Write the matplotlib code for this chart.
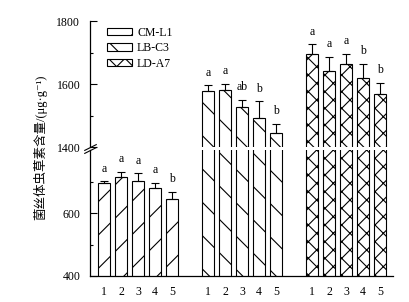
import numpy as np
import matplotlib
matplotlib.use('Agg')
import matplotlib.pyplot as plt

# Fonte serifada para o texto latino, CJK para o rótulo chinês
plt.rcParams['font.family'] = ['Liberation Serif', 'Noto Sans CJK SC', 'DejaVu Sans']
plt.rcParams['hatch.linewidth'] = 0.8

# ---- Dados ----
strains = ['CM-L1', 'LB-C3', 'LD-A7']
samples = ['1', '2', '3', '4', '5']

cm_l1 = [694, 713, 702, 680, 646]
cm_l1_err = [7, 17, 24, 15, 22]
cm_l1_sig = ['a', 'a', 'a', 'a', 'b']

lb_c3 = [1577, 1582, 1528, 1491, 1443]
lb_c3_err = [19, 19, 21, 54, 30]
lb_c3_sig = ['a', 'a', 'ab', 'b', 'b']

ld_a7 = [1697, 1643, 1665, 1620, 1569]
ld_a7_err = [29, 43, 32, 45, 35]
ld_a7_sig = ['a', 'a', 'a', 'b', 'b']

groups = [(cm_l1, cm_l1_err, cm_l1_sig),
          (lb_c3, lb_c3_err, lb_c3_sig),
          (ld_a7, ld_a7_err, ld_a7_sig)]
hatches = ['/', '\\', 'xx']

fig = plt.figure(figsize=(4.1, 3.02), dpi=100)
ax_top = fig.add_axes([0.2195, 0.5132, 0.739, 0.4168])
ax_bot = fig.add_axes([0.2195, 0.0861, 0.739, 0.4169])

fs = 8.5
handles = []
all_x = []
for g, ((vals, errs, sig), hatch) in enumerate(zip(groups, hatches)):
    x = g * 6.12 + np.arange(len(vals))
    all_x.extend(x)
    for ax in (ax_top, ax_bot):
        bars = ax.bar(x, vals, 0.75, color='white', edgecolor='black',
                      linewidth=0.8, hatch=hatch, zorder=2)
        ax.errorbar(x, vals, yerr=[np.zeros(len(vals)), errs], fmt='none',
                    ecolor='black', elinewidth=0.8, capsize=3, capthick=0.8,
                    zorder=3)
    handles.append(bars)
    # letras de significância
    for xi, v, e, s in zip(x, vals, errs, sig):
        target = ax_top if v > 1000 else ax_bot
        target.annotate(s, (xi, v + e), xytext=(0, 7), textcoords='offset points',
                        ha='center', va='baseline', fontsize=fs, annotation_clip=False)

# ---- Eixos ----
ax_top.set_ylim(1400, 1800)
ax_bot.set_ylim(400, 800)
ax_top.set_yticks([1400, 1600, 1800])
ax_top.set_yticks([1500, 1700], minor=True)
ax_bot.set_yticks([400, 600])
ax_bot.set_yticks([500, 700], minor=True)

for ax in (ax_top, ax_bot):
    ax.set_xlim(-0.82, 17.0)
    ax.spines['top'].set_visible(False)
    ax.spines['right'].set_visible(False)
    ax.spines['left'].set_linewidth(0.9)
    ax.spines['bottom'].set_linewidth(0.9)
    ax.tick_params(axis='y', direction='in', length=5, width=0.8,
                   labelsize=fs, pad=7)
    ax.tick_params(axis='y', which='minor', direction='in', length=2.5, width=0.8)

ax_top.spines['bottom'].set_visible(False)
ax_top.tick_params(axis='x', bottom=False, labelbottom=False)
ax_bot.set_xticks(all_x)
ax_bot.set_xticklabels(samples * 3)
ax_bot.tick_params(axis='x', length=0, labelsize=fs, pad=7)

# marcas de quebra do eixo
kw = dict(marker=[(-1, -0.5), (1, 0.5)], markersize=9, linestyle='none',
          color='k', mec='k', mew=0.8, clip_on=False)
ax_top.plot([0], [0], transform=ax_top.transAxes, **kw)
ax_bot.plot([0], [1], transform=ax_bot.transAxes, **kw)

# legenda
ax_top.legend(handles, strains, loc='upper left', bbox_to_anchor=(0.056, 0.955),
              frameon=False, fontsize=fs, borderpad=0, borderaxespad=0,
              handlelength=2.1, handleheight=0.6, labelspacing=0.3,
              handletextpad=0.45)

fig.text(0.098, 0.513, '菌丝体虫草素含量/(μg·g⁻¹)', rotation=90,
         ha='center', va='center', fontsize=9)

plt.savefig('out.png', dpi=100)
